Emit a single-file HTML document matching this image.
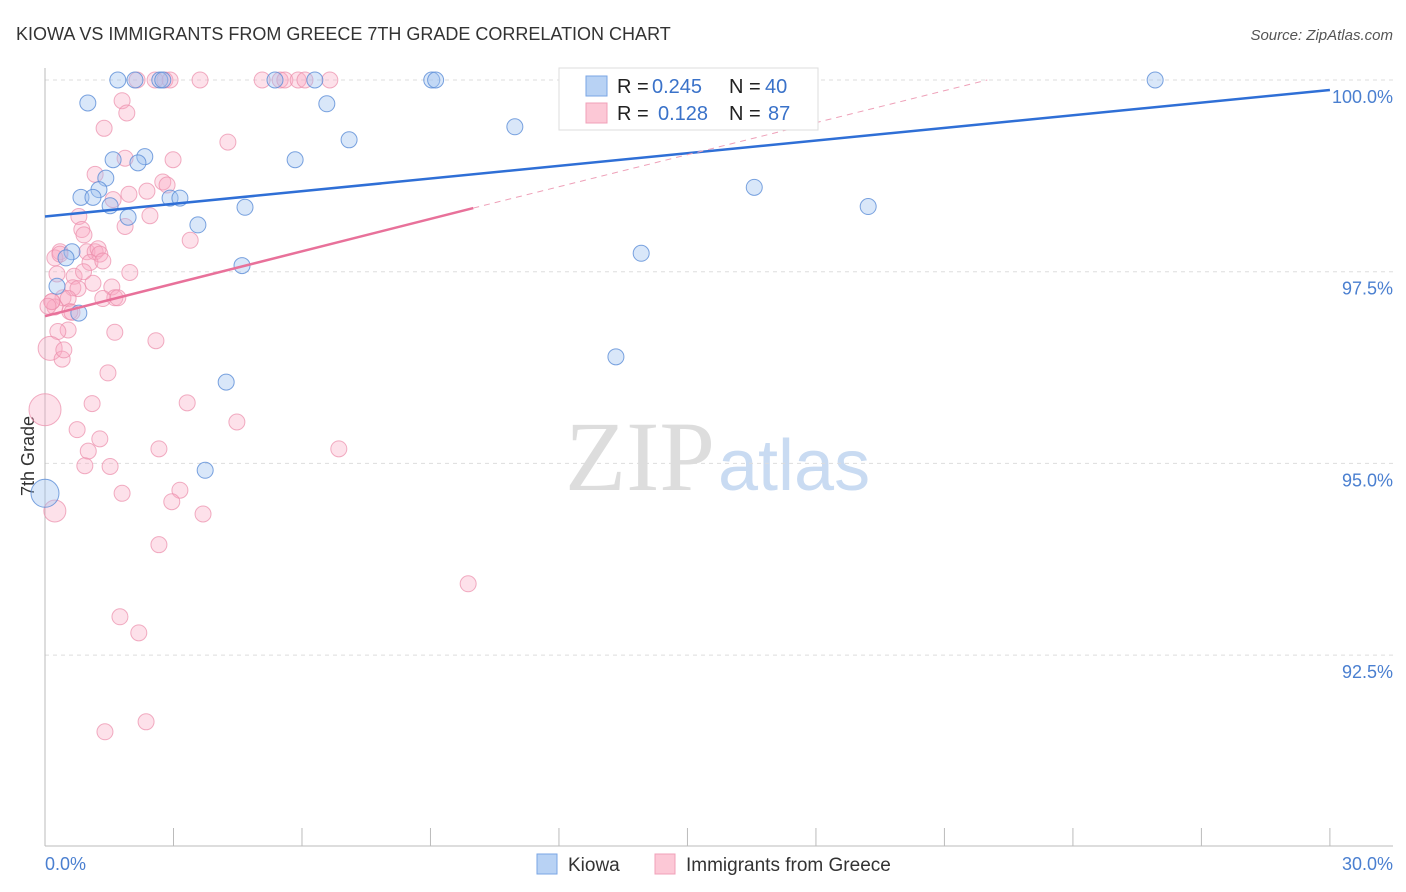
<!DOCTYPE html>
<html><head><meta charset="utf-8"><style>
body{margin:0;background:#fff;font-family:"Liberation Sans",sans-serif;}
svg{display:block}
</style></head><body>
<svg id="chart" width="1406" height="892" viewBox="0 0 1406 892">
<text x="16" y="40" font-size="18" fill="#333">KIOWA VS IMMIGRANTS FROM GREECE 7TH GRADE CORRELATION CHART</text>
<text x="1393" y="40" font-size="15" fill="#555" font-style="italic" text-anchor="end">Source: ZipAtlas.com</text>
<text x="715" y="490" font-size="100" fill="#ddd" text-anchor="end" font-family="Liberation Serif,serif">ZIP</text>
<text x="718" y="490" font-size="72" fill="#c9dbf2">atlas</text>
<text x="34" y="456" font-size="18" fill="#333" transform="rotate(-90 34 456)" text-anchor="middle">7th Grade</text>
<g id="grid"></g><g id="pts"></g><g id="trend"></g>
<g>
<rect x="559" y="68" width="259" height="62" fill="#fff" stroke="#ddd"/>
<rect x="586" y="76" width="21" height="20" fill="#b8d2f4" stroke="#7aa6e4"/>
<rect x="586" y="103" width="21" height="20" fill="#fcc8d6" stroke="#f0a0b8"/>
<text x="617" y="93" font-size="20" fill="#222">R =</text>
<text x="652" y="93" font-size="20" fill="#3a72c9">0.245</text>
<text x="729" y="93" font-size="20" fill="#222">N =</text>
<text x="765" y="93" font-size="20" fill="#3a72c9">40</text>
<text x="617" y="120" font-size="20" fill="#222">R =</text>
<text x="658" y="120" font-size="20" fill="#3a72c9">0.128</text>
<text x="729" y="120" font-size="20" fill="#222">N =</text>
<text x="768" y="120" font-size="20" fill="#3a72c9">87</text>
</g>
<g>
<rect x="537" y="854" width="20" height="20" fill="#b8d2f4" stroke="#7aa6e4"/>
<text x="568" y="871" font-size="19" fill="#333">Kiowa</text>
<rect x="655" y="854" width="20" height="20" fill="#fcc8d6" stroke="#f0a0b8"/>
<text x="686" y="871" font-size="19" fill="#333">Immigrants from Greece</text>
</g>
</svg>
<script>
const yTicks=[100,97.5,95,92.5];
const yTickLabels=["100.0%","97.5%","95.0%","92.5%"];
const xTickLabels=["0.0%","30.0%"];
const kiowaX=[1.70,2.10,2.68,2.75,5.37,6.30,9.03,9.12,16.18,25.92,1.00,6.58,10.97,7.10,2.33,1.59,2.17,5.84,1.42,1.26,16.56,0.84,1.12,1.52,2.92,3.15,4.67,19.22,1.94,3.57,13.92,0.63,0.49,4.60,0.28,0.79,13.33,4.23,3.74,0.0];
const kiowaY=[100,100,100,100,100,100,100,100,100,100,99.70,99.69,99.39,99.22,99.00,98.96,98.92,98.96,98.72,98.57,98.60,98.47,98.47,98.36,98.46,98.46,98.34,98.35,98.21,98.11,97.74,97.76,97.68,97.58,97.31,96.96,96.39,96.06,94.91,94.61];
const kiowaR=[8,8,8,8,8,8,8,8,8,8,8,8,8,8,8,8,8,8,8,8,8,8,8,8,8,8,8,8,8,8,8,8,8,8,8,8,8,8,8,14];
const greeceX=[2.15,2.57,2.80,2.92,3.62,5.07,5.49,5.60,5.91,6.07,6.65,1.80,1.91,1.38,4.27,2.99,1.87,1.17,2.75,2.85,2.38,1.96,1.59,2.45,0.79,1.87,0.86,0.91,3.39,0.35,0.98,1.17,1.24,1.28,0.23,1.05,1.35,1.98,0.28,0.68,1.12,1.56,0.65,0.77,0.42,0.54,1.63,1.35,1.70,0.16,0.23,0.58,1.63,0.54,0.30,2.59,0.12,0.40,1.47,0.0,1.10,3.32,4.48,0.75,1.28,2.66,1.01,6.86,0.93,1.52,1.80,3.15,2.96,3.69,0.23,2.66,9.88,1.75,2.19,2.36,1.40,0.16,0.44,0.07,0.63,0.35,0.9];
const greeceY=[100,100,100,100,100,100,100,100,100,100,100,99.73,99.57,99.37,99.19,98.96,98.98,98.77,98.67,98.63,98.55,98.51,98.44,98.23,98.22,98.09,98.05,97.98,97.91,97.76,97.76,97.76,97.80,97.73,97.68,97.62,97.64,97.49,97.47,97.44,97.35,97.30,97.29,97.28,97.16,97.15,97.16,97.15,97.16,97.11,97.04,96.98,96.71,96.74,96.72,96.60,96.50,96.36,96.18,95.70,95.78,95.79,95.54,95.44,95.32,95.19,95.16,95.19,94.97,94.96,94.61,94.65,94.50,94.34,94.38,93.94,93.43,93.00,92.79,91.63,91.50,97.11,96.48,97.05,96.97,97.73,97.5];
const greeceR=[8,8,8,8,8,8,8,8,8,8,8,8,8,8,8,8,8,8,8,8,8,8,8,8,8,8,8,8,8,8,8,8,8,8,8,8,8,8,8,8,8,8,8,8,8,8,8,8,8,8,8,8,8,8,8,8,12,8,8,16,8,8,8,8,8,8,8,8,8,8,8,8,8,8,11,8,8,8,8,8,8,8,8,8,8,8,8];
const kiowaTrend=[[0,98.22],[30,99.87]];
const greeceTrend=[[0,96.92],[10,98.33]];
const greeceDash=[[10,98.33],[22,100]];
const X=v=>45+v*42.83, Y=v=>80+(100-v)*76.68;
const NS="http://www.w3.org/2000/svg";
function mk(t,a,p){const e=document.createElementNS(NS,t);for(const k in a)e.setAttribute(k,a[k]);p.appendChild(e);return e;}
const grid=document.getElementById('grid');
yTicks.forEach((t,i)=>{
 const l=mk('line',{x1:45,x2:1393,y1:Y(t),y2:Y(t),stroke:'#ddd','stroke-dasharray':'4,4'},grid);
 
 
 const tx=mk('text',{x:1393,y:Y(t)+23,'font-size':18,fill:'#4a7fd0','text-anchor':'end'},grid);tx.textContent=yTickLabels[i];
 
 
});
const ax=mk('line',{x1:45,x2:45,y1:68,y2:846,stroke:'#bbb'},grid);


const bx=mk('line',{x1:45,x2:1393,y1:846,y2:846,stroke:'#bbb'},grid);


for(let i=0;i<=10;i++){const t=mk('line',{x1:X(i*3),x2:X(i*3),y1:828,y2:846,stroke:'#bbb'},grid);
 
 }
xTickLabels.forEach((s,i)=>{const t=mk('text',{x:i?1393:45,y:870,'font-size':18,fill:'#4a7fd0','text-anchor':i?'end':'start'},grid);t.textContent=s;
 
 });
const pts=document.getElementById('pts');
greeceX.forEach((x,i)=>{const c=mk('circle',{cx:X(x),cy:Y(greeceY[i]),r:greeceR[i],fill:'rgba(248,170,195,0.35)',stroke:'rgba(235,140,170,0.7)'},pts);
 
 });
kiowaX.forEach((x,i)=>{const c=mk('circle',{cx:X(x),cy:Y(kiowaY[i]),r:kiowaR[i],fill:'rgba(160,195,240,0.4)',stroke:'rgba(90,140,215,0.8)'},pts);
 
 });
const tr=document.getElementById('trend');
const l1=mk('line',{x1:X(kiowaTrend[0][0]),y1:Y(kiowaTrend[0][1]),x2:X(kiowaTrend[1][0]),y2:Y(kiowaTrend[1][1]),stroke:'#2f6fd6','stroke-width':2.5},tr);


const l2=mk('line',{x1:X(greeceTrend[0][0]),y1:Y(greeceTrend[0][1]),x2:X(greeceTrend[1][0]),y2:Y(greeceTrend[1][1]),stroke:'#e8719a','stroke-width':2.5},tr);


const l3=mk('line',{x1:X(greeceDash[0][0]),y1:Y(greeceDash[0][1]),x2:X(greeceDash[1][0]),y2:Y(greeceDash[1][1]),stroke:'#eea0b8','stroke-width':1,'stroke-dasharray':'6,5'},tr);


</script>
</body></html>
